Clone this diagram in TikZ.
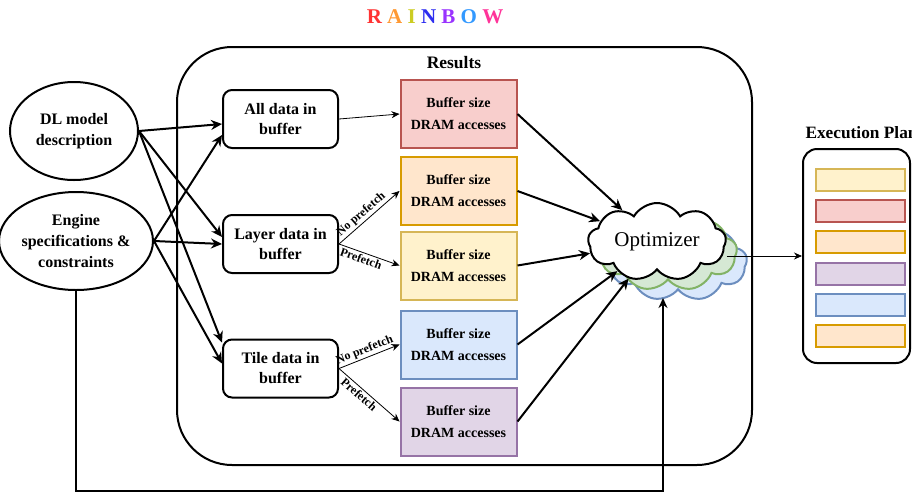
\documentclass[tikz,border=0pt]{standalone}
\usepackage{fontspec}
\setmainfont{Liberation Serif}
\usetikzlibrary{shapes.geometric,shapes.symbols,arrows.meta,calc}

\definecolor{redF}{HTML}{F8CECC} \definecolor{redD}{HTML}{B85450}
\definecolor{orgF}{HTML}{FFE6CC} \definecolor{orgD}{HTML}{D79B00}
\definecolor{ylwF}{HTML}{FFF2CC} \definecolor{ylwD}{HTML}{D6B656}
\definecolor{bluF}{HTML}{DAE8FC} \definecolor{bluD}{HTML}{6C8EBF}
\definecolor{prpF}{HTML}{E1D5E7} \definecolor{prpD}{HTML}{9673A6}
\definecolor{grnF}{HTML}{D5E8D4} \definecolor{grnD}{HTML}{82B366}
\definecolor{rbR}{HTML}{FF3333} \definecolor{rbA}{HTML}{FF9933}
\definecolor{rbI}{HTML}{CCCC22} \definecolor{rbN}{HTML}{2E2EF0}
\definecolor{rbB}{HTML}{9933FF} \definecolor{rbO}{HTML}{3399FF}
\definecolor{rbW}{HTML}{FF3399}

\begin{document}
\begin{tikzpicture}[x=1pt,y=-1pt,
  inputell/.style={ellipse, draw, line width=2pt, minimum width=128pt, minimum height=98pt,
    inner sep=0pt, align=center, font=\fontsize{16}{21}\selectfont\bfseries},
  modebox/.style={rectangle, rounded corners=9pt, draw, line width=2pt, minimum width=115pt,
    minimum height=58pt, align=center, font=\fontsize{16}{20}\selectfont\bfseries},
  resbox/.style={rectangle, draw, line width=2pt, minimum width=116pt, minimum height=68pt,
    align=center, font=\fontsize{14}{22}\selectfont\bfseries},
  planbar/.style={rectangle, draw, line width=2pt, minimum width=89pt, minimum height=22pt},
  cloudy/.style={cloud, cloud puffs=9, cloud puff arc=120, cloud ignores aspect, draw,
    line width=2pt, minimum width=138pt, minimum height=78pt, inner sep=0pt},
  heavy/.style={line width=2pt, -{Stealth[length=11pt,width=10pt]}},
  light/.style={line width=0.8pt, -{Stealth[length=8pt,width=7pt]}},
  tag/.style={font=\fontsize{12}{13}\selectfont\bfseries, sloped, inner sep=1.5pt},
]
\useasboundingbox (0,0) rectangle (912,493);
\clip (0,0) rectangle (912,493);

% title
\node[font=\fontsize{21}{24}\selectfont\bfseries] (title) at (435,17)
  {\textcolor{rbR}{R} \textcolor{rbA}{A} \textcolor{rbI}{I} \textcolor{rbN}{N} \textcolor{rbB}{B} \textcolor{rbO}{O} \textcolor{rbW}{W}};

% main frame
\node[draw, line width=2pt, rounded corners=55pt, minimum width=575pt, minimum height=418pt]
  (frame) at (464.5,256) {};
\node[font=\fontsize{17.5}{20}\selectfont\bfseries] (results) at (454,63) {Results};

% inputs
\node[inputell] (dl) at (74,131) {DL model\\description};
\node[inputell] (eng) at (76,241) {Engine\\specifications \&\\constraints};

% data placement modes
\node[modebox] (all) at (280.5,119) {All data in\\buffer};
\node[modebox] (layer) at (280.5,244) {Layer data in\\buffer};
\node[modebox] (tile) at (280.5,368.5) {Tile data in\\buffer};

% result boxes
\node[resbox, fill=redF, draw=redD] (red) at (458.5,114) {Buffer size\\DRAM accesses};
\node[resbox, fill=orgF, draw=orgD] (org) at (458.5,191) {Buffer size\\DRAM accesses};
\node[resbox, fill=ylwF, draw=ylwD] (ylw) at (458.5,265.5) {Buffer size\\DRAM accesses};
\node[resbox, fill=bluF, draw=bluD] (blu) at (458.5,344.5) {Buffer size\\DRAM accesses};
\node[resbox, fill=prpF, draw=prpD] (prp) at (458.5,421.5) {Buffer size\\DRAM accesses};

% optimizer cloud stack
\node[cloudy, fill=bluF, draw=bluD] (optb) at (678,262) {};
\node[cloudy, fill=grnF, draw=grnD] (optg) at (668,252) {};
\node[cloudy, fill=white, font=\fontsize{21}{24}\selectfont] (opt) at (657,242) {Optimizer};

% execution plan
\node[anchor=west, font=\fontsize{17.3}{20}\selectfont\bfseries] (plantitle) at (802,133) {Execution Plan};
\node[draw, line width=2pt, rounded corners=14pt, minimum width=107pt, minimum height=214pt]
  (plan) at (856.5,256) {};
\node[planbar, fill=ylwF, draw=ylwD] (p1) at (860.5,180) {};
\node[planbar, fill=redF, draw=redD] (p2) at (860.5,211.2) {};
\node[planbar, fill=orgF, draw=orgD] (p3) at (860.5,242.4) {};
\node[planbar, fill=prpF, draw=prpD] (p4) at (860.5,273.6) {};
\node[planbar, fill=bluF, draw=bluD] (p5) at (860.5,304.8) {};
\node[planbar, fill=orgF, draw=orgD] (p6) at (860.5,336) {};

% inputs to modes
\draw[heavy] (dl.east) -- ($(all.west)+(0,5)$);
\draw[heavy] (eng.east) -- ($(all.west)+(0,16)$);
\draw[heavy] (dl.east) -- ($(layer.west)+(0,-7)$);
\draw[heavy] (eng.east) -- (layer.west);
\draw[heavy] (dl.east) -- ($(tile.west)+(0,-26)$);
\draw[heavy] (eng.east) -- ($(tile.west)+(0,-5)$);

% modes to results
\draw[light] (all.east) -- (red.west);
\draw[light] (layer.east) -- node[tag, above, pos=0.45] {No prefetch} (org.west);
\draw[light] (layer.east) -- node[tag, below, pos=0.4] {Prefetch} (ylw.west);
\draw[light] (tile.east) -- node[tag, above, pos=0.47] {No prefetch} (blu.west);
\draw[light] (tile.east) -- node[tag, below, pos=0.4] {Prefetch} (prp.west);

% results to optimizer
\draw[heavy] (red.east) -- (opt);
\draw[heavy] (org.east) -- (opt);
\draw[heavy] (ylw.east) -- (opt);
\draw[heavy] (blu.east) -- (opt);
\draw[heavy] (prp.east) -- (opt);

% engine constraints fed straight to the optimizer
\coordinate (fbin) at (663,298);
\draw[line width=1.4pt, -{Stealth[length=10pt,width=9pt]}] (eng.south) -- ++(0,200) -| (fbin);

% optimizer to execution plan
\draw[light] (opt.east |- plan.west) -- (plan.west);
\end{tikzpicture}
\end{document}
